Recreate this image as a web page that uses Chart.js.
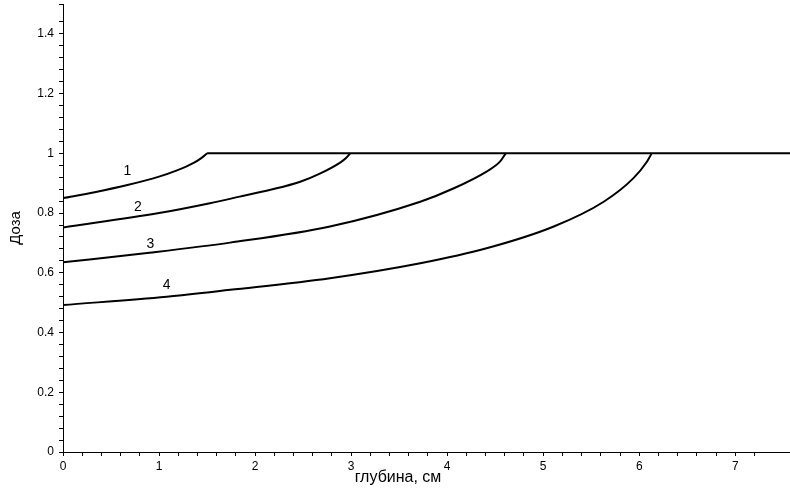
<!DOCTYPE html>
<html>
<head>
<meta charset="utf-8">
<script src="https://cdn.jsdelivr.net/npm/chart.js@4/dist/chart.umd.min.js"></script>
<style>
  html, body { margin: 0; padding: 0; background: #fff; }
  #wrap { width: 790px; height: 491px; position: relative; }
</style>
</head>
<body>
<div id="wrap"><canvas id="doseChart"></canvas></div>
<script>
// Depth (cm) vs dose
const depth1 = [0, 0.33, 0.66, 1.0, 1.18, 1.36, 1.44, 1.5];
const dose1  = [0.85, 0.870, 0.893, 0.922, 0.942, 0.968, 0.984, 1.0];

const depth2 = [0, 1.0, 1.53, 1.84, 2.16, 2.47, 2.68, 2.89, 2.95, 2.99];
const dose2  = [0.752, 0.80, 0.833, 0.855, 0.878, 0.905, 0.933, 0.970, 0.985, 1.0];

const depth3 = [0, 0.9, 1.74, 2.78, 3.72, 4.07, 4.41, 4.55, 4.61];
const dose3  = [0.635, 0.667, 0.701, 0.755, 0.838, 0.883, 0.939, 0.972, 1.0];

const depth4 = [0, 1.08, 1.74, 2.78, 3.72, 4.41, 5.11, 5.63, 5.94, 6.08, 6.13];
const dose4  = [0.492, 0.52, 0.543, 0.582, 0.632, 0.682, 0.755, 0.838, 0.917, 0.972, 1.0];

// plateau: dose stays at 1 past the build-up region
const plateauDepth = [1.5, 7.57];
const plateauDose  = [1.0, 1.0];

// curve number labels (depth, dose)
const curveNames  = ['1', '2', '3', '4'];
const labelDepth  = [0.67, 0.78, 0.91, 1.08];
const labelDose   = [0.94, 0.82, 0.695, 0.56];

const xMax = 7.57;
const yMax = 1.5;

function pts(xs, ys) {
  return xs.map((x, i) => ({x: x, y: ys[i]}));
}

function lineSet(xs, ys) {
  return {
    data: pts(xs, ys),
    showLine: true,
    borderColor: '#000',
    borderWidth: 2,
    pointRadius: 0,
    cubicInterpolationMode: 'monotone',
    fill: false
  };
}

// text marks: curve numbers and x axis title
const annotate = {
  id: 'annotate',
  afterDatasetsDraw(chart) {
    const {ctx, scales: {x, y}} = chart;
    ctx.save();
    ctx.fillStyle = '#000';
    ctx.font = '14px "Liberation Sans", Arial, sans-serif';
    ctx.textAlign = 'center';
    ctx.textBaseline = 'middle';
    curveNames.forEach((n, i) => {
      ctx.fillText(n, x.getPixelForValue(labelDepth[i]), y.getPixelForValue(labelDose[i]));
    });
    ctx.font = '16px "Liberation Sans", Arial, sans-serif';
    ctx.fillText('глубина, см', 398, 478);
    ctx.restore();
  }
};

const isMultiple = (v, step) => Math.abs(v / step - Math.round(v / step)) < 1e-6;

new Chart(document.getElementById('doseChart'), {
  type: 'scatter',
  data: {
    datasets: [
      lineSet(depth1, dose1),
      lineSet(depth2, dose2),
      lineSet(depth3, dose3),
      lineSet(depth4, dose4),
      lineSet(plateauDepth, plateauDose)
    ]
  },
  options: {
    responsive: true,
    maintainAspectRatio: false,
    animation: false,
    layout: { padding: { top: 4, right: 0, left: 0, bottom: 0 } },
    plugins: { legend: { display: false }, tooltip: { enabled: false } },
    scales: {
      x: {
        type: 'linear',
        min: 0,
        max: xMax,
        afterFit(scale) {
          scale.height = 39;
          scale.paddingLeft = 0;
          scale.paddingRight = 0;
        },
        border: { display: true, color: '#000', width: 1 },
        grid: { display: true, drawOnChartArea: false, tickLength: 4, color: '#000' },
        ticks: {
          stepSize: 0.2,
          autoSkip: false,
          maxRotation: 0,
          padding: 3,
          color: '#000',
          font: { family: '"Liberation Sans", Arial, sans-serif', size: 12 },
          callback: (v) => isMultiple(v, 1) ? String(Math.round(v)) : ''
        }
      },
      y: {
        type: 'linear',
        min: 0,
        max: yMax,
        afterFit(scale) {
          scale.width = 63;
          scale.paddingTop = 0;
          scale.paddingBottom = 0;
        },
        border: { display: true, color: '#000', width: 1 },
        grid: { display: true, drawOnChartArea: false, tickLength: 4, color: '#000' },
        title: {
          display: true,
          text: 'Доза',
          color: '#000',
          padding: { top: 7, bottom: 0 },
          font: { family: '"Liberation Sans", Arial, sans-serif', size: 15 }
        },
        ticks: {
          stepSize: 0.04,
          autoSkip: false,
          padding: 5,
          color: '#000',
          font: { family: '"Liberation Sans", Arial, sans-serif', size: 12 },
          callback: (v) => isMultiple(v, 0.2) ? String(Number(v.toFixed(1))) : ''
        }
      }
    }
  },
  plugins: [annotate]
});
</script>
</body>
</html>
